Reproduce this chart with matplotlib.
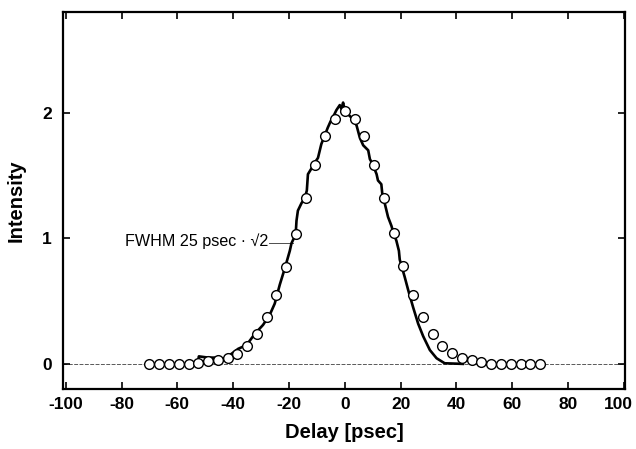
import numpy as np
import matplotlib
matplotlib.use('Agg')
import matplotlib.pyplot as plt
import matplotlib.transforms as mtransforms

plt.rcParams['font.family'] = ['Liberation Sans', 'DejaVu Sans']
plt.rcParams['axes.unicode_minus'] = False

# calculated points (open circles), every 3.5 psec
calc_x = np.arange(-20, 21) * 3.5
calc_y = [0, 0, 0, 0, 0, 0.01, 0.02, 0.03, 0.05, 0.08, 0.14, 0.24, 0.37, 0.55, 0.77, 1.03,
          1.32, 1.58, 1.81, 1.95, 2.01, 1.95, 1.81, 1.58, 1.32, 1.04, 0.78, 0.55, 0.37, 0.24,
          0.14, 0.085, 0.05, 0.03, 0.015, 0, 0, 0, 0, 0, 0]

# measured trace (solid line)
meas_x = [-52.5, -52.3, -49, -46, -43.5, -41.2, -38.2, -35.2, -32.2, -29.3, -26.9, -25.1,
          -23.3, -21.5, -19.7, -19.1, -17.6, -17.3, -16.8, -15.5, -14.3, -13.6, -13.2, -12.1,
          -11.1, -9.6, -8.4, -7.5, -6.1, -5.1, -4.3, -3.0, -1.8, -1.2, -0.6, -0.3, 0.6, 2.4,
          4.2, 5.4, 6.6, 8.4, 9.0, 10.0, 11.4, 11.9, 13.1, 13.6, 14.3, 15.5, 16.7, 17.5, 18.5,
          19.4, 19.7, 21.5, 22.7, 24.5, 26.3, 28.1, 30.5, 32.9, 35.8, 42.3]
meas_y = [0.03, 0.06, 0.05, 0.05, 0.04, 0.07, 0.12, 0.15, 0.24, 0.31, 0.39, 0.48,
          0.63, 0.76, 0.90, 0.96, 1.03, 1.14, 1.22, 1.28, 1.32, 1.38, 1.51, 1.55,
          1.59, 1.64, 1.75, 1.80, 1.88, 1.93, 1.96, 2.02, 2.06, 2.03, 2.08, 2.05, 2.00, 1.96,
          1.90, 1.80, 1.74, 1.70, 1.63, 1.59, 1.51, 1.46, 1.43, 1.32, 1.28, 1.17, 1.10, 1.04, 0.98,
          0.90, 0.83, 0.69, 0.59, 0.45, 0.32, 0.22, 0.11, 0.045, 0.005, 0.0]

x_ticks = [-100, -80, -60, -40, -20, 0, 20, 40, 60, 80, 100]
y_ticks = [0, 1, 2]

fig = plt.figure(figsize=(6.36, 4.49), dpi=100)
ax = fig.add_axes([0.099, 0.1336, 0.884, 0.8394])

ax.axhline(0, color='0.35', lw=0.7, ls=(0, (4, 1.5)), zorder=1)
ax.plot(meas_x, meas_y, color='black', lw=1.9, zorder=2)
ax.plot(calc_x, calc_y, 'o', ms=7, mfc='white', mec='black', mew=1.0, zorder=3)

# FWHM annotation
ax.text(-27.5, 0.975, 'FWHM 25 psec \u00b7 \u221a2', ha='right', va='center', fontsize=11.6)
ax.plot([-27.3, -18.6], [0.96, 0.96], color='0.3', lw=0.7, zorder=1)

ax.set_xlim(-101, 100.5)
ax.set_ylim(-0.2, 2.8)
ax.set_xticks(x_ticks)
ax.set_yticks(y_ticks)
ax.tick_params(direction='in', top=True, right=True, length=5, width=1.2,
               labelsize=12.5)
ax.tick_params(axis='x', pad=6)
ax.tick_params(axis='y', pad=8)
for lab in ax.get_xticklabels() + ax.get_yticklabels():
    lab.set_fontweight('bold')
# nudge the last x label so it stays inside the canvas
last = ax.get_xticklabels()[-1]
last.set_transform(last.get_transform() + mtransforms.ScaledTranslation(-4 / 72, 0, fig.dpi_scale_trans))
for s in ax.spines.values():
    s.set_linewidth(1.6)

ax.set_xlabel('Delay [psec]', fontsize=14.5, fontweight='bold', labelpad=8)
ax.set_ylabel('Intensity', fontsize=14.5, fontweight='bold', labelpad=12)

fig.savefig('out.png', dpi=100)
